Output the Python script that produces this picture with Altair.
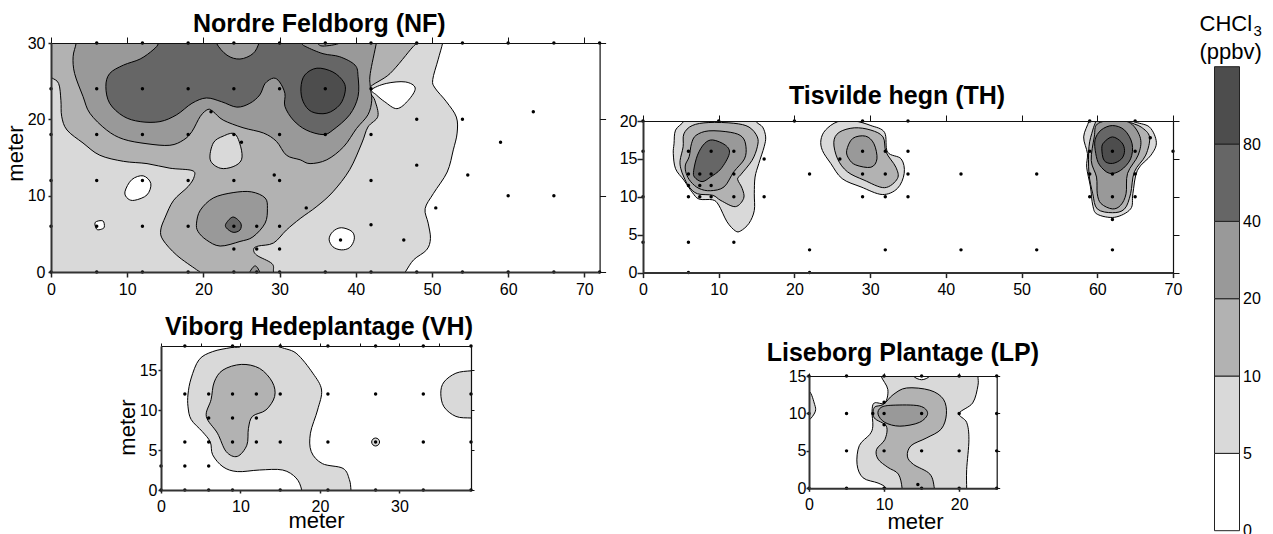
import altair as alt
import pandas as pd

FONT = "Liberation Sans"
LEVELS = ["0", "5", "10", "20", "40", "80"]
GRAYS = ["#ffffff", "#d9d9d9", "#b2b2b2", "#999999", "#666666", "#4d4d4d"]

# ---------- Nordre Feldborg contours (x, y in metres) ----------
nf_5 = [(-3,33),(51.7,33),(51.6,31.5),(51.4,30),(50.8,27.8),(50.1,25.2),(50.4,24.1),(51.9,22.3),(53.2,20.3),(53.3,18.2),(52.8,16),(52,13.1),(50.2,10.3),(49.1,8.3),(49.5,6.4),(49.8,4.4),(49.3,2.9),(47.6,1.6),(46.5,0),(45.5,-1.5),(45.5,-3),(-3,-3)]
nf_10 = [(-3,33),(-3,27),(-1.5,26.5),(0,25.5),(1,24.7),(1.3,22.5),(1.4,20.4),(2.1,18.6),(4.2,16.9),(6.4,15.3),(9.5,14.5),(12.6,14.2),(15.6,13.6),(18.5,13.3),(18.8,12.5),(18,11.2),(16.1,9.4),(15,7.2),(14.4,5.5),(14.7,4.2),(16.5,2.2),(19.1,.3),(19.5,0),(20,-1.5),(20.5,-3),(29.5,-3),(29.4,-1.5),(29.2,0),(29,1.1),(27,2.2),(26.6,3),(27.2,3.4),(29.2,3.8),(30.9,5.5),(32.7,7),(34.9,8.6),(37,10.5),(39.2,13.4),(40.8,16.9),(41.6,19),(42.9,20.4),(42.5,22.5),(41.8,24.1),(44.5,26),(47.5,29.5),(48.2,30),(48.8,31.5),(49,33)]
nf_hole_white_a = [(42.1,23.9),(44,24.7),(46.5,24.9),(47.8,24.1),(46.9,22.5),(45.4,21.4),(43.8,22.3),(42.7,23.2)]
nf_hole_light = [(20.9,14.7),(21.3,16.9),(22.6,17.8),(24.1,18.1),(24.9,16.4),(25,14.7),(23.9,13.8),(22.2,13.6)]
nf_hole_white_b = [(9.7,10.5),(10.6,12.1),(12.1,12.6),(13.1,11.6),(12.6,10.1),(11,9.4),(10.1,9.6)]
nf_hole_white_c = [(5.8,6.5),(6.8,6.7),(7,5.9),(6.6,5.6),(6,5.6)]
nf_hole_white_d = [(36.5,4.3),(37,5.3),(38.1,5.8),(39.5,5.3),(39.8,4.3),(39.2,3.2),(38.1,2.9),(37,3.3)]
nf_20_top = [(3.3,33),(3.3,31.5),(3.3,30),(2.9,28.2),(3.1,26),(4.2,23),(5.1,20.8),(7.3,18.6),(9.5,17.4),(12.6,16.8),(15.6,16.6),(17.4,17.3),(18.5,18.4),(19.6,20.4),(20.6,21.3),(21.3,21),(22.6,19.9),(25.2,18.9),(27.9,18.2),(29.6,17.1),(30.9,15.3),(32.7,14.7),(34,14.2),(36.2,14.7),(38.4,16.4),(40.1,18.8),(41.6,20.6),(42.1,22.5),(41.9,24.3),(41.9,26),(42.7,30),(42.9,31.5),(43,33)]
nf_20_mid = [(19.1,6.4),(19.6,8.1),(21.3,9.7),(23.9,10.4),(26.3,10.5),(28.1,9.7),(28.4,8.3),(28.1,6.4),(26.5,4.6),(24.8,4),(22.2,3.4),(20.4,4.2),(19.3,5.3)]
nf_20_low = [(25.9,-1),(26.1,0),(26.8,.8),(27.4,0),(27.7,-1)]
nf_40_top = [(14,33),(14,31.5),(14.1,30),(13.4,29.1),(11.7,27.9),(9.5,27.1),(7.7,26),(7.2,24.3),(7.7,22.1),(9.5,20.4),(11.7,19.7),(14.3,19.7),(16.5,20.6),(18.5,22.1),(20.4,22.8),(22.4,22.3),(24.4,21.6),(26.1,22.1),(27.4,23.2),(28.1,24.7),(29.2,25.4),(30,24.9),(30.7,23.4),(30.7,21.7),(31.8,19.9),(33.5,18.6),(35.7,18),(37,18.6),(39.2,20.6),(40.3,23),(40.3,25.6),(39.9,27.1),(37.9,28.2),(35.7,28.6),(33.5,29.5),(32.9,30),(32.5,31.5),(32.5,33)]
nf_20_notch = [(21.7,30),(23.1,28.4),(24.8,27.9),(26.5,28.6),(27.3,30),(27.6,31.5),(27.6,33),(21.5,33),(21.5,31.5)]
nf_20_tip = [(34.8,31),(35,30),(35.7,29.6),(37.9,30),(38,31)]
nf_40_mid = [(23,6.4),(23.9,7.2),(24.9,6.4),(24.8,5.5),(23.9,5.2),(23,5.8)]
nf_80 = [(34.9,26.7),(37,26.2),(38.4,24.9),(38.6,23.6),(37.9,21.9),(36.2,20.8),(34.2,21),(33.1,22.3),(32.8,24.1),(33.3,25.8)]

# ---------- Tisvilde hegn contours ----------
th_a5 = [(5.4,20),(5.6,21.5),(5.8,23),(14.7,23),(14.9,21.5),(14.9,20),(15.8,19.2),(16.2,17.9),(16,16.6),(15.3,14.4),(14.8,12.6),(14.7,10.4),(14.7,8.2),(14,6.5),(12.9,5.5),(12.2,5.5),(11.1,6.7),(10,8.9),(9.2,9.6),(7.4,9.7),(6.5,10.6),(5.4,12.2),(4.3,13.7),(4,15.7),(4.1,17),(4.3,18.8)]
th_a10 = [(4.9,14.8),(5.3,16.6),(5.4,18.3),(6.5,19.4),(8.7,19.8),(12,19.7),(14,19.2),(15.1,17.9),(15.1,16.6),(14.4,14.8),(12.9,12.9),(12.5,12.3),(13.1,11.1),(13.3,9.8),(12.2,8.7),(10.3,9.5),(9.2,10.2),(7.2,10.4),(6.1,11.3),(5.4,12.6),(5,13.7)]
th_a20 = [(6.1,15.3),(6.4,17),(7,18.1),(8.7,18.7),(11.6,18.5),(13.1,17.9),(13.6,16.6),(13.4,15),(12,13.3),(10.7,11.3),(8.9,10.8),(7.4,11.1),(6.3,12),(5.7,13.1),(5.6,14.2)]
th_a40 = [(6.7,13.5),(7.2,15.5),(8.1,17),(9.2,17.5),(10.9,16.8),(11.4,15.7),(10.3,13.7),(8.9,12.6),(7.8,12),(6.8,12.6)]
th_b5 = [(23.5,17.5),(24.1,18.8),(25.7,19.9),(27.9,20),(30.1,19.4),(31.9,18.5),(32.3,15.9),(34.1,15),(34.5,13.1),(33.6,11.1),(31.6,10.3),(28.8,11.3),(26.3,12.4),(24.8,14.4),(23.7,16.1)]
th_b10 = [(25.2,17.2),(25.9,18.5),(27.9,19.1),(30.1,18.8),(31.7,17.9),(32.1,15.9),(33.4,13.9),(33.6,12.4),(31.9,11.2),(29.2,12.2),(27,13.3),(25.7,15)]
th_b20 = [(26.9,16.1),(27.7,17.7),(29.4,18),(30.5,17),(30.9,15),(30.1,13.9),(28.1,14.2),(27.2,15)]
th_c5 = [(58.2,17.9),(58.9,20),(59.1,21.5),(59.1,23),(64.7,23),(64.8,21.5),(64.9,20),(66.9,19.2),(67.8,17.2),(67.1,15.5),(65.3,13.5),(64.7,10.4),(64.4,8.4),(62.3,7.3),(60,7.7),(59.4,8.9),(59.1,11.3),(58.6,13.9),(58.7,15.7)]
th_c10 = [(59.4,18.8),(59.8,20),(60,21.5),(60,23),(64,23),(64.1,21.5),(64.2,20),(65.8,19.2),(66.9,17.9),(66.4,15.5),(64.9,13.3),(64.4,10.4),(63.6,8.4),(62,7.9),(60,8.4),(59.4,10.4),(58.9,13.1),(58.9,16.6)]
th_c20 = [(59.6,17.9),(60,19.6),(62.2,20.1),(64.4,19.7),(65.7,17.7),(65.4,15.5),(64,13.1),(63.8,10.4),(63.1,8.9),(62,8.4),(60.5,9.1),(60,10.4),(59.9,12.6),(59.2,14.8)]
th_c40 = [(59.7,17.5),(60.5,18.8),(62,19.4),(63.6,18.8),(64.6,17),(64.4,15),(63.1,13.5),(61.6,13.1),(60.3,14.2),(59.8,15.7)]
th_c80 = [(60.6,16.4),(60.9,17.2),(62,17.9),(63.2,17.2),(63.6,16.1),(63.2,15),(62,14.4),(60.9,14.8)]

# ---------- Viborg Hedeplantage contours ----------
vh_5 = [(3.8,14),(4.8,16.3),(6.5,17.3),(8.8,17.8),(10.1,18),(10.1,19.5),(10.1,21),(14.9,21),(14.9,19.5),(14.9,18),(17,17.1),(19.1,14.6),(20.2,12.5),(19.7,10),(18.8,7.1),(18.9,4.8),(20.3,3.3),(22.9,2.7),(23.7,1.3),(23.9,0),(24,-1.5),(24,-3),(17.6,-3),(17.7,-1.5),(17.7,0),(17,1.5),(15.3,2.5),(12.4,2.5),(9.6,2.3),(7.8,2.9),(6.5,4.4),(6.2,6),(5.2,7.3),(3.8,8.8),(3.4,10.4),(3.4,12)]
vh_5_right = [(35.2,12.1),(35.6,13.5),(37.1,14.6),(39,14.9),(40.5,14.9),(42,14.9),(42,9),(40.5,9),(39,9),(37.1,9.2),(35.6,10.4)]
vh_5_ring = [(26.5,6),(26.65,6.35),(27,6.5),(27.35,6.35),(27.5,6),(27.35,5.65),(27,5.5),(26.65,5.65)]
vh_10 = [(5.7,9.2),(6.3,11.3),(6.7,13.5),(7.8,15),(10.1,15.7),(12.4,15.2),(14,13.5),(14.3,11.7),(13.2,10),(11.5,9.2),(11,7.7),(10.8,5.6),(9.6,4.2),(8.2,4.8),(7.1,7.1)]

# ---------- Liseborg Plantage contours ----------
lp_5 = [(9.6,15),(10.5,13.2),(10.1,11.4),(8.7,11.4),(8.4,10.3),(8.5,8.3),(8.1,7.2),(6.7,5.7),(6.4,3.2),(7.2,1.4),(9.2,.7),(10.3,0),(10.8,-1.5),(10.8,-3),(21,-3),(21,-1.5),(21,0),(21,2.5),(21.3,6.5),(21,8.8),(20,10),(21.8,11.4),(22.5,13.7),(22.5,15),(22.5,16.5),(22.5,18),(9.5,18),(9.5,16.5)]
lp_0_notch = [(13.9,15),(15,14.5),(16.1,15),(16.2,16),(13.8,16)]
lp_5_left = [(0,13),(.75,11.2),(.85,10.3),(.3,9.4),(0,9.3),(-1.5,9.3),(-3,9.3),(-3,13),(-1.5,13)]
lp_10 = [(9.9,11.2),(11.2,12.5),(13,13.4),(16.1,13.1),(17.9,11.9),(18.3,9.9),(17.6,7.9),(15.6,6.7),(13.6,5.7),(13.1,4.3),(13.9,3.2),(16.1,1.9),(16.7,0),(16.8,-1.5),(16.8,-3),(12.3,-3),(12.3,-1.5),(12.4,0),(11.9,1.9),(10.5,2.8),(9.2,3.9),(9,5.2),(10.1,6.5),(10.3,8.3),(8.7,9.4),(8.7,10.8)]
lp_20 = [(9.2,9.9),(9.6,10.8),(11.2,11.1),(14.7,11),(15.8,10),(14.7,8.8),(12.1,8.3),(10.1,8.8)]

# ---------- Sampling points ----------
nf_pts = [(x,30) for x in [6,12,18,24,30,36,42,48,54,60,66,72]] + [(x,24) for x in [0,6,12,18,24,30,36,42]] + \
    [(x,18) for x in [0,6,12,18,24,30,36,42]] + [(25,17),(21,21),(63.3,21),(48,20),(54,20),(59,17),(48,14),(29.3,12.7),(54.7,12.7),
    (60,10),(66,10),(33.5,8.4),(50.5,8.4),(42,6.2),(38,4.2),(46.3,4.2),(24,3),(27,3),(30,3)] + \
    [(x,12) for x in [0,6,12,18,24,30,42]] + [(x,6) for x in [0,6,12,18,24,27,30]] + \
    [(x,0) for x in [0,6,12,18,24,27,30,36,42,48,54,60,66,72]]
th_pts = [(x,20) for x in [0,10,20,29,35,59,65]] + [(x,16) for x in [0,6,9,12,29,32,35,59,62,65,70]] + [(67,17.8),(16,15),(26,15),(62,7)] + \
    [(x,13) for x in [6,7.5,9,12,22,29,32,35,42,52,59,62,65]] + [(x,11.5) for x in [6,7.5,9]] + \
    [(x,10) for x in [0,6,7.5,9,12,16,29,32,35,59,62,65]] + [(x,4) for x in [0,6,12]] + \
    [(x,3) for x in [22,32,42,52,62]] + [(6,0),(22,0)]
vh_pts = [(x,0) for x in [0,3,6,9,15,21,27,33,39]] + [(x,18) for x in [3,9,15,21,27,33,39]] + \
    [(x,12) for x in [3,6,9,12,15,21,27,33,39]] + [(x,9) for x in [6,9,12]] + \
    [(x,6) for x in [3,6,9,12,15,21,27,33,39]] + [(x,3) for x in [0,3,6]]
lp_pts = [(x,15) for x in [0,5,10,15,20,25]] + [(x,10) for x in [0,5,8.5,10,15,20,25]] + [(10,8.5),(10,11.5),(14.5,.5)] + \
    [(x,5) for x in [5,10,15,20,25]] + [(x,0) for x in [0,5,10,15,20,25]]

# Colour bar
bar_labels = ["0", "5", "10", "20", "40", "80"]
bar_pos = [0, 1, 2, 3, 4, 5]


def poly_table(polys):
    rows = []
    for pid, (level, pts) in enumerate(polys):
        for i, (x, y) in enumerate(pts):
            rows.append({"poly": pid, "level": level, "i": i, "x": x, "y": y})
    return pd.DataFrame(rows)


def spacer(w, h):
    return alt.Chart(pd.DataFrame({"a": [0]})).mark_point(opacity=0).encode(
        x=alt.value(0), y=alt.value(0)).properties(width=w, height=h)


def panel(polys, pts, title, xdom, ydom, xvals, yvals, w, h, xtop, ytick, tick=5, left_tick=3, bottom_tick=5,
          xtitle=None, ytitle=None, xtitle_x=None, ytitle_y=None, dx=0, offset=1, xpad=4, ypad=3, ytitle_pad=0,
          xtitle_pad=-2):
    bottom = dict(values=xvals, orient="bottom", grid=False, zindex=1, tickSize=bottom_tick, tickColor="#222", tickWidth=1.5,
                  domainColor="#333", domainWidth=2, labelFont=FONT, labelFontSize=16, labelColor="#000",
                  labelPadding=xpad, format="d", labelFlush=False, title=xtitle, titleFont=FONT,
                  titleFontSize=22, titleFontWeight="normal", titleColor="#000", titlePadding=xtitle_pad)
    left = dict(values=yvals, orient="left", grid=False, zindex=1, tickSize=left_tick, tickColor="#222", tickWidth=1.5,
                domainColor="#333", domainWidth=2, labelFont=FONT, labelFontSize=16, labelColor="#000",
                labelPadding=ypad, format="d", title=ytitle, titleFont=FONT, titleFontSize=22,
                titleFontWeight="normal", titleColor="#000", titlePadding=ytitle_pad)
    if xtitle_x is not None:
        bottom["titleX"] = xtitle_x
    if ytitle_y is not None:
        left["titleY"] = ytitle_y
    top = dict(values=xtop, orient="top", grid=False, zindex=1, labels=False, title=None, tickSize=tick,
               tickColor="#111", tickWidth=1, domainColor="#111", domainWidth=1.2)
    right = dict(values=ytick, orient="right", grid=False, zindex=1, labels=False, title=None, tickSize=tick,
                 tickColor="#111", tickWidth=1, domainColor="#111", domainWidth=1.2)
    xs = alt.Scale(domain=xdom, nice=False, zero=False)
    ys = alt.Scale(domain=ydom, nice=False, zero=False)
    fills = alt.Chart(poly_table(polys)).mark_line(
        stroke="#000", strokeWidth=1, interpolate="cardinal-closed", clip=True
    ).encode(
        x=alt.X("x:Q", scale=xs, axis=alt.Axis(**bottom)),
        y=alt.Y("y:Q", scale=ys, axis=alt.Axis(**left)),
        fill=alt.Fill("level:N", scale=alt.Scale(domain=LEVELS, range=GRAYS), legend=None),
        detail="poly:N",
        order="i:Q",
    )
    dots = alt.Chart(pd.DataFrame(pts, columns=["x", "y"])).mark_circle(size=12, color="#000", opacity=1).encode(
        x=alt.X("x:Q", scale=xs, axis=alt.Axis(**top)),
        y=alt.Y("y:Q", scale=ys, axis=alt.Axis(**right)),
    )
    return alt.layer(fills, dots).resolve_axis(x="independent", y="independent").properties(
        width=w, height=h,
        title=alt.TitleParams(title, font=FONT, fontSize=25, fontWeight="bold", color="#000", anchor="middle",
                              dx=dx, offset=offset),
    )


nf = panel(
    [("5", nf_5), ("10", nf_10), ("0", nf_hole_white_a), ("5", nf_hole_light), ("0", nf_hole_white_b),
     ("0", nf_hole_white_c), ("0", nf_hole_white_d), ("20", nf_20_top), ("20", nf_20_mid), ("20", nf_20_low),
     ("40", nf_40_top), ("20", nf_20_notch), ("20", nf_20_tip), ("40", nf_40_mid), ("80", nf_80)],
    nf_pts, "Nordre Feldborg (NF)", [0, 72], [0, 30], list(range(0, 71, 10)), [0, 10, 20, 30], 548.6, 229,
    list(range(0, 71, 10)), [0, 10, 20, 30], tick=6, left_tick=3, ypad=3, ytitle="meter", ytitle_y=110, dx=-6, offset=-2)
th = panel(
    [("5", th_a5), ("10", th_a10), ("20", th_a20), ("40", th_a40), ("5", th_b5), ("10", th_b10), ("20", th_b20),
     ("5", th_c5), ("10", th_c10), ("20", th_c20), ("40", th_c40), ("80", th_c80)],
    th_pts, "Tisvilde hegn (TH)", [0, 70], [0, 20], list(range(0, 71, 10)), [0, 5, 10, 15, 20], 530, 151.6,
    list(range(0, 71, 10)), [0, 5, 10, 15, 20], tick=6, left_tick=6, ypad=0, dx=-11, offset=4)
vh = panel(
    [("5", vh_5), ("5", vh_5_right), ("5", vh_5_ring), ("10", vh_10)],
    vh_pts, "Viborg Hedeplantage (VH)", [0, 39], [0, 18], [0, 10, 20, 30], [0, 5, 10, 15], 310, 144,
    [0, 5, 10, 15, 20, 25, 30, 35], [0, 5, 10, 15], tick=3, left_tick=3, bottom_tick=3, xpad=5, ypad=1,
    xtitle="meter", xtitle_pad=-4, ytitle="meter", ytitle_y=81, ytitle_pad=0, dx=3, offset=3)
lp = panel(
    [("5", lp_5), ("0", lp_0_notch), ("5", lp_5_left), ("10", lp_10), ("20", lp_20)],
    lp_pts, "Liseborg Plantage (LP)", [0, 25], [0, 15], [0, 10, 20], [0, 5, 10, 15], 187.7, 112.3,
    [0, 10, 20], [0, 5, 10, 15], tick=3, left_tick=3, bottom_tick=3, xpad=5, ypad=0, xtitle="meter", xtitle_x=106,
    xtitle_pad=-1, offset=2)

bar_df = pd.DataFrame({"pos": bar_pos, "end": [p + 1 for p in bar_pos], "level": LEVELS})
label_expr = "[" + ",".join(f"'{s}'" for s in bar_labels) + "][datum.value]"
bar_rect = alt.Chart(bar_df).mark_rect(stroke="#222", strokeWidth=1).encode(
    y=alt.Y("pos:Q", scale=alt.Scale(domain=[0, 6], nice=False, range=[487.7, 23.7]),
            axis=alt.Axis(values=bar_pos, orient="right", labelExpr=label_expr, tickSize=0, domain=False, grid=False,
                          labelFont=FONT, labelFontSize=16, labelColor="#000", labelPadding=3, title=None,
                          labelBound=False, labelOverlap=False)),
    y2="end:Q",
    fill=alt.Fill("level:N", scale=alt.Scale(domain=LEVELS, range=GRAYS), legend=None),
)
bar_title_main = alt.Chart(pd.DataFrame({"t": ["CHCl"]})).mark_text(
    font=FONT, fontSize=22, align="left", baseline="alphabetic", color="#000").encode(
    x=alt.value(-15), y=alt.value(-12), text="t:N")
bar_title_sub = alt.Chart(pd.DataFrame({"t": ["3"]})).mark_text(
    font=FONT, fontSize=15, align="left", baseline="alphabetic", color="#000").encode(
    x=alt.value(39), y=alt.value(-7), text="t:N")
bar_title_unit = alt.Chart(pd.DataFrame({"t": ["(ppbv)"]})).mark_text(
    font=FONT, fontSize=22, align="left", baseline="alphabetic", color="#000").encode(
    x=alt.value(-15), y=alt.value(16), text="t:N")
bar = alt.layer(bar_rect, bar_title_main, bar_title_sub, bar_title_unit).properties(width=25, height=487.7)

left_col = alt.vconcat(nf, spacer(1, 14), alt.hconcat(spacer(65, 1), vh, spacing=0), spacing=0)
right_col = alt.vconcat(spacer(1, 40.4), th, spacer(1, 40), alt.hconcat(spacer(122.6, 1), lp, spacing=0), spacing=0)

chart = alt.hconcat(left_col, alt.hconcat(right_col, bar, spacing=17.5), spacing=12).properties(
    padding={"left": -4, "top": 4, "right": 0, "bottom": 0}).configure_view(stroke=None)
chart.save("out.html", embed_options={"renderer": "svg", "actions": False})
